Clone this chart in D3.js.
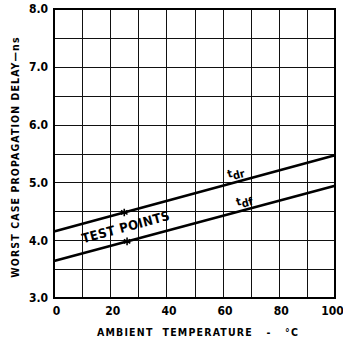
<!DOCTYPE html>
<html><head><meta charset="utf-8">
<script src="https://cdn.jsdelivr.net/npm/d3@7"></script>
<style>
html,body{margin:0;padding:0;background:#fff;}
svg{display:block;}
text{font-family:"DejaVu Sans Condensed","Liberation Sans Narrow","DejaVu Sans",sans-serif;font-weight:bold;fill:#000;}
</style></head>
<body>
<script>
const temps = [0, 100];
const tdr = [4.15, 5.47];
const tdf = [3.64, 4.94];
const testPointTemps = [25, 26];
const testPointValues = [4.48, 3.98];
const xTicks = [0, 20, 40, 60, 80, 100];
const yTicks = [3.0, 4.0, 5.0, 6.0, 7.0, 8.0];
const xGrid = d3.range(0, 101, 10);
const yGrid = d3.range(3, 8.01, 0.5);

const W = 343, H = 345;
const m = {l: 54, r: 8, t: 9, b: 47};
const svg = d3.select("body").append("svg").attr("width", W).attr("height", H);
const x = d3.scaleLinear().domain([0, 100]).range([m.l, W - m.r]);
const y = d3.scaleLinear().domain([3, 8]).range([H - m.b, m.t]);

// grid
svg.append("g").selectAll("line").data(xGrid).join("line")
  .attr("x1", d => Math.round(x(d)) + 0.5).attr("x2", d => Math.round(x(d)) + 0.5).attr("y1", y(3)).attr("y2", y(8))
  .attr("stroke", "#111").attr("stroke-width", 1);
svg.append("g").selectAll("line").data(yGrid).join("line")
  .attr("x1", x(0)).attr("x2", x(100)).attr("y1", d => Math.round(y(d)) + 0.5).attr("y2", d => Math.round(y(d)) + 0.5)
  .attr("stroke", "#111").attr("stroke-width", 1);
svg.append("rect").attr("x", x(0)).attr("y", y(8)).attr("width", x(100) - x(0)).attr("height", y(3) - y(8))
  .attr("fill", "none").attr("stroke", "#000").attr("stroke-width", 2);

// axes
const xAxis = svg.append("g").attr("transform", `translate(0,${y(3)})`)
  .call(d3.axisBottom(x).tickValues(xTicks).tickSize(0).tickPadding(8).tickFormat(d3.format("d")));
xAxis.select(".domain").remove();
xAxis.selectAll("text").attr("font-size", 12).style("font-family", "'DejaVu Sans Condensed',sans-serif").attr("font-weight", "bold")
  .attr("dx", d => d === 100 ? -3 : 2);
const yAxis = svg.append("g").attr("transform", `translate(${x(0)},0)`)
  .call(d3.axisLeft(y).tickValues(yTicks).tickSize(0).tickPadding(6).tickFormat(d3.format(".1f")));
yAxis.select(".domain").remove();
yAxis.selectAll("text").attr("font-size", 12).style("font-family", "'DejaVu Sans Condensed',sans-serif").attr("font-weight", "bold");

// lines
const line = d3.line().x(d => x(d[0])).y(d => y(d[1]));
svg.append("path").datum(temps.map((t, i) => [t, tdr[i]])).attr("d", line)
  .attr("fill", "none").attr("stroke", "#000").attr("stroke-width", 2.6);
svg.append("path").datum(temps.map((t, i) => [t, tdf[i]])).attr("d", line)
  .attr("fill", "none").attr("stroke", "#000").attr("stroke-width", 2.6);

// test points
svg.append("g").selectAll("path").data(testPointTemps.map((t, i) => [t, testPointValues[i]])).join("path")
  .attr("transform", d => `translate(${x(d[0])},${y(d[1])})`)
  .attr("d", d3.symbol(d3.symbolAsterisk, 40))
  .attr("fill", "none").attr("stroke", "#000").attr("stroke-width", 1.6);

// angle of lines
const ang = Math.atan2(y(tdr[1]) - y(tdr[0]), x(100) - x(0)) * 180 / Math.PI;

function lineLabel(t, val, sub, dy) {
  const g = svg.append("text").attr("transform", `translate(${x(t)},${y(val) + dy}) rotate(${ang})`)
    .attr("text-anchor", "middle").attr("font-size", 11);
  g.append("tspan").text("t");
  g.append("tspan").attr("dy", 3).attr("font-size", 11).text(sub);
}
lineLabel(65, 4.15 + 0.0132 * 65, "dr", -6);
lineLabel(68, 3.64 + 0.013 * 68, "df", -6);

svg.append("text").attr("transform", `translate(${x(26)},${y(4.24) + 5}) rotate(${ang})`)
  .attr("text-anchor", "middle").attr("font-size", 13).attr("letter-spacing", 0.5).text("TEST POINTS");

// axis titles
svg.append("text").attr("x", 198).attr("y", 336).attr("text-anchor", "middle")
  .attr("font-size", 10.5).attr("letter-spacing", 1.2).style("white-space", "pre")
  .text("AMBIENT  TEMPERATURE   -   °C");
svg.append("text").attr("transform", `translate(19,157) rotate(-90)`).attr("text-anchor", "middle")
  .attr("font-size", 10.5).attr("letter-spacing", 1.1)
  .text("WORST CASE PROPAGATION DELAY—ns");
</script>
</body></html>
